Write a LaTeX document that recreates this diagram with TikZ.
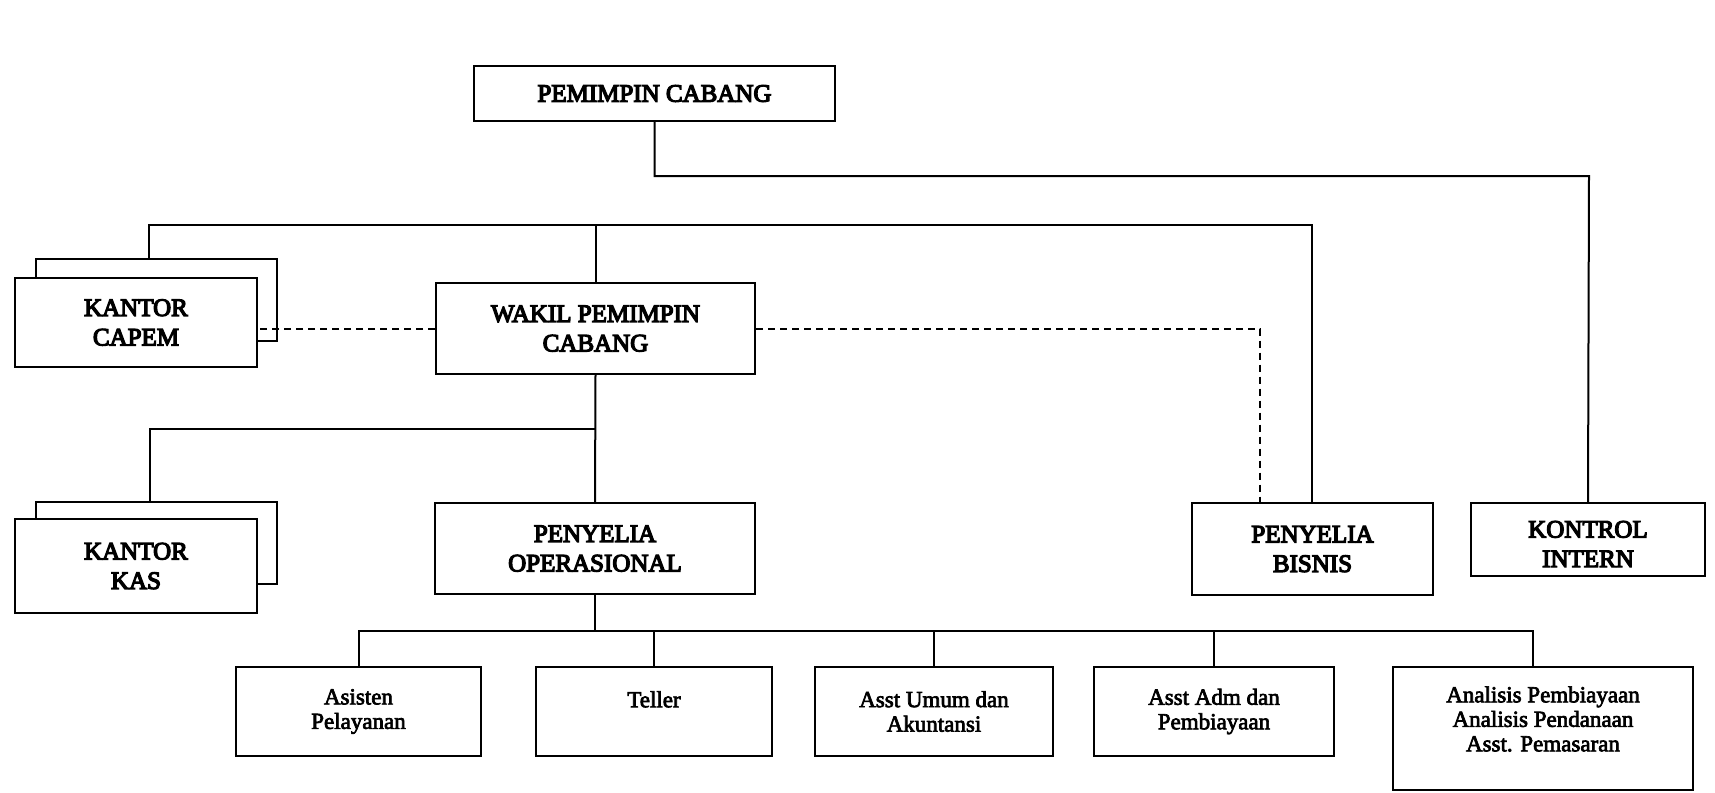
\documentclass[tikz,border=0pt]{standalone}
\usepackage{fontspec}
\setmainfont{Liberation Serif}
\newfontfamily\capsfont{Liberation Serif}[FakeBold=5]
\newfontfamily\smallfont{Liberation Serif}[FakeBold=3]

% box from (x1,y1) to (x2,y2), in pixel units
% #1 style, #2 name, #3 x1, #4 y1, #5 x2, #6 y2, #7 text
\newcommand\orgbox[7]{%
  \node[box,#1,minimum width={(#5-#3)*0.5pt},minimum height={(#6-#4)*0.5pt}]
    (#2) at ({(#3+#5)/2},{(#4+#6)/2}) {#7};}

\begin{document}
\begin{tikzpicture}[x=0.5pt,y=-0.5pt,
  box/.style={draw,fill=white,line width=1pt,inner sep=0pt,align=center},
  up/.style={font=\capsfont\fontsize{12.5}{14.75}\selectfont},
  low/.style={font=\smallfont\fontsize{11.5}{12.25}\selectfont},
  link/.style={line width=1pt},
  dsh/.style={line width=1pt,dash pattern=on 3.5pt off 2.5pt}]
\useasboundingbox (0,0) rectangle (1715,793);

% top level
\orgbox{up}{pc}{474}{66}{835}{121}{PEMIMPIN CABANG}

% stacked office boxes (back sheet first)
\orgbox{}{capemB}{36}{259}{277}{341}{}
\orgbox{up}{capem}{15}{278}{257}{367}{KANTOR\\CAPEM}
\orgbox{}{kasB}{36}{502}{277}{584}{}
\orgbox{up}{kas}{15}{519}{257}{613}{KANTOR\\KAS}

% deputy and supervisors
\orgbox{up}{wakil}{436}{283}{755}{374}{WAKIL PEMIMPIN\\CABANG}
\orgbox{up}{ops}{435}{503}{755}{594}{PENYELIA\\OPERASIONAL}
\orgbox{up}{bis}{1192}{503}{1433}{595}{PENYELIA\\BISNIS}
\orgbox{}{ki}{1471}{503}{1705}{576}{}
\node[up,align=center] (kit) at ({(1471+1705)/2},544) {KONTROL\\INTERN};

% staff row
\orgbox{low}{asis}{236}{667}{481}{756}{Asisten\\Pelayanan}
\orgbox{low}{tel}{536}{667}{772}{756}{Teller\\\mbox{}}
\orgbox{low}{umum}{815}{667}{1053}{756}{Asst Umum dan\\Akuntansi}
\orgbox{low}{adm}{1094}{667}{1334}{756}{Asst Adm dan\\Pembiayaan}
\orgbox{}{ana}{1393}{667}{1693}{790}{}
\node[low,align=center] (anat) at ({(1393+1693)/2},719) {Analisis Pembiayaan\\Analisis Pendanaan\\Asst. Pemasaran};

% bus coordinates
\coordinate (topL) at (149,225);
\coordinate (topR) at (1312,225);
\coordinate (ctrl) at (1589,176);
\coordinate (kasL) at (150,429);
\coordinate (dk) at (1260,330);
\coordinate (bb) at (0,631);
\coordinate (anaT) at (1533,667);

% Pemimpin Cabang to Kontrol Intern
\draw[link] (pc.south) |- (ctrl) -- (ki.north);

% upper bus: Kantor Capem, Wakil, Penyelia Bisnis
\draw[link] (topL |- capemB.north) -- (topL) -- (topR) -- (topR |- bis.north);
\draw[link] (wakil.north) -- (wakil.north |- topL);

% dashed coordination lines
\draw[dsh] (wakil.west) -- (wakil.west -| capem.east);
\draw[dsh] (wakil.east) -| (dk |- bis.north);

% Wakil down to Penyelia Operasional and Kantor Kas
\draw[link] (wakil.south) -- (ops.north);
\draw[link] (wakil.south |- kasL) -- (kasL) -- (kasL |- kasB.north);

% lower bus to staff
\draw[link] (ops.south) -- (ops.south |- bb);
\draw[link] (asis.north) -- (asis.north |- bb) -- (anaT |- bb) -- (anaT);
\draw[link] (tel.north) -- (tel.north |- bb);
\draw[link] (umum.north) -- (umum.north |- bb);
\draw[link] (adm.north) -- (adm.north |- bb);
\end{tikzpicture}
\end{document}
